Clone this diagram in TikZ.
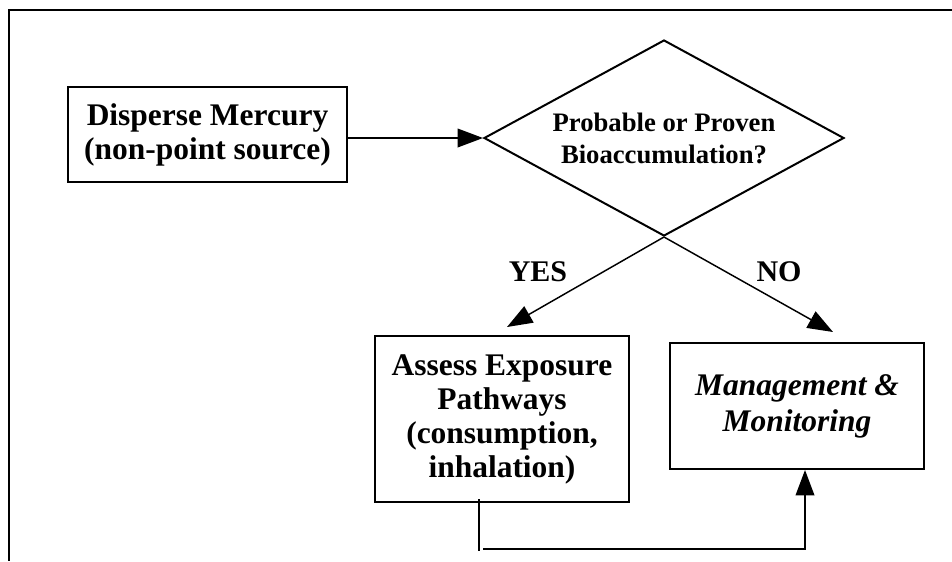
\documentclass[tikz,border=0pt]{standalone}
\usepackage{fontspec}
\setmainfont{Liberation Serif}
\usetikzlibrary{arrows.meta,shapes.geometric}
\begin{document}
\begin{tikzpicture}[x=0.75pt,y=-0.75pt,
  box/.style={draw,line width=1.5pt,inner sep=0pt,align=center,font=\fontsize{23.6}{25.5}\selectfont\bfseries},
  decision/.style={draw,diamond,aspect=1.84,minimum width=270pt,minimum height=147pt,inner sep=0pt,line width=1.5pt,align=center,font=\fontsize{20}{24}\selectfont\bfseries},
  conn/.style={line width=1.1pt},
  arr/.style={conn,-{Triangle[length=19pt,width=14pt]}},
  lab/.style={font=\fontsize{22.5}{25}\selectfont\bfseries},
  frameline/.style={line width=1.5pt}]
\useasboundingbox (0,0) rectangle (952,561);
\coordinate (ftop) at (952,10);
\coordinate (fcorner) at (9,10);
\coordinate (fbot) at (9,561);
\draw[frameline] (ftop) -- (fcorner) -- (fbot);

\node[box,minimum width=209.25pt,minimum height=71.25pt] (disp) at (207.5,134.5) {Disperse Mercury\\(non-point source)};
\node[decision] (dia) at (664,138) {Probable or Proven\\Bioaccumulation?};
\node[box,minimum width=190.5pt,minimum height=124.5pt] (assess) at (502,419) {Assess Exposure\\Pathways\\(consumption,\\inhalation)};
\node[box,minimum width=190.5pt,minimum height=94.5pt,font=\fontsize{23.6}{27}\selectfont\bfseries\itshape] (mgmt) at (797,406) {Management \&\\Monitoring};

\draw[arr] (disp.east |- dia.west) -- (dia.west);

\coordinate (yesend) at (507,327);
\coordinate (noend) at (833,332);
\draw[arr] (dia.south) -- (yesend);
\draw[arr] (dia.south) -- (noend);
\node[lab] (yes) at (538,272) {YES};
\node[lab] (no) at (779,272) {NO};

\coordinate (fb1) at (479,551);
\coordinate (fb2) at (483,549);
\coordinate (fb3) at (805,549);
\draw[conn] ([yshift=3pt]fb1 |- assess.south) -- (fb1);
\draw[arr] (fb2) -- (fb3) -- (fb3 |- mgmt.south);
\end{tikzpicture}
\end{document}
